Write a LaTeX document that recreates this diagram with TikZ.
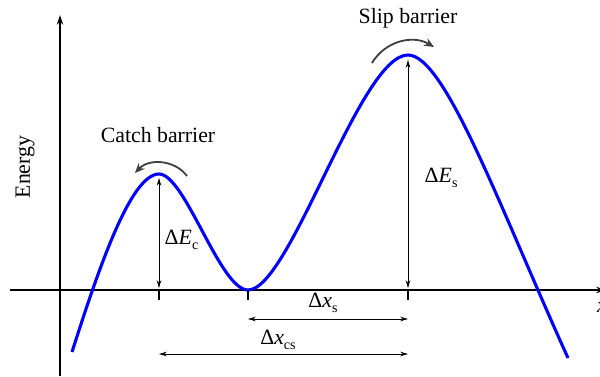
\documentclass[tikz,border=0pt]{standalone}
\usepackage{fontspec}
\setmainfont{Liberation Serif}
\usetikzlibrary{arrows.meta}

\newcommand{\lowsub}[1]{\raisebox{-0.45ex}{\fontsize{10}{10}\selectfont #1}}

\begin{document}
\begin{tikzpicture}[
    x=0.025cm, y=0.025cm,
    every node/.style={font=\fontsize{15.5}{18}\selectfont, inner sep=1pt},
    axis/.style={line width=1pt, -{Stealth[length=7pt, width=4.5pt]}},
    dimarrow/.style={line width=0.6pt, {Stealth[length=5.5pt, width=3.2pt]}-{Stealth[length=5.5pt, width=3.2pt]}},
    turnarrow/.style={line width=1.3pt, draw=black!75, -{Stealth[length=7pt, width=6pt]}},
    tickmark/.style={line width=0.8pt}
]
\useasboundingbox (0,0) rectangle (600,376);

% axes
\coordinate (origin x) at (10,86);
\coordinate (end x) at (606,86);
\coordinate (origin y) at (60,0);
\coordinate (end y) at (60,361);
\draw[axis] (origin x) -- (end x);
\draw[axis] (origin y) -- (end y);
\node (xlabel) at (602,69) {\textit{x}};
\node[rotate=90] (energy) at (25,209) {Energy};

% key points of the curve
\coordinate (start) at (72,24);
\coordinate (catch) at (159,202);
\coordinate (valley) at (248,86);
\coordinate (slip) at (408,321);
\coordinate (stop) at (568,18);

\draw[blue, line width=2.2pt]
    (start) .. controls (97,102) and (130,202) .. (catch)
    .. controls (185,202) and (220,86) .. (valley)
    .. controls (290,86) and (360,321) .. (slip)
    .. controls (445,321) and (500,168) .. (stop);

% ticks on the x axis
\foreach \name/\px in {catch tick/159, valley tick/248, slip tick/408}{
    \coordinate (\name) at (\px,76);
    \draw[tickmark] (\px,86) -- (\name);
}

% energy barriers
\coordinate (catch top) at (159,198);
\coordinate (catch foot) at (159,88);
\draw[dimarrow] (catch top) -- (catch foot);
\node[anchor=west] (dEc) at (163,136) {Δ\textit{E}\lowsub{c}};

\coordinate (slip top) at (408,316);
\coordinate (slip foot) at (408,88);
\draw[dimarrow] (slip top) -- (slip foot);
\node[anchor=west] (dEs) at (423,198) {Δ\textit{E}\lowsub{s}};

% distances
\coordinate (xs left) at (248,57);
\coordinate (xs right) at (408,57);
\draw[dimarrow] (xs left) -- (xs right);
\node (dxs) at (323,73) {Δ\textit{x}\lowsub{s}};

\coordinate (xcs left) at (159,22);
\coordinate (xcs right) at (408,22);
\draw[dimarrow] (xcs left) -- (xcs right);
\node (dxcs) at (278,36) {Δ\textit{x}\lowsub{cs}};

% barrier labels
\node (catch label) at (158,241) {Catch barrier};
\coordinate (catch from) at (187,200);
\coordinate (catch to) at (135,203);
\draw[turnarrow] (catch from) to[bend right=50] (catch to);

\node (slip label) at (408,358) {Slip barrier};
\coordinate (slip from) at (372,313);
\coordinate (slip to) at (434,329);
\draw[turnarrow] (slip from) to[bend left=45] (slip to);

\end{tikzpicture}
\end{document}
